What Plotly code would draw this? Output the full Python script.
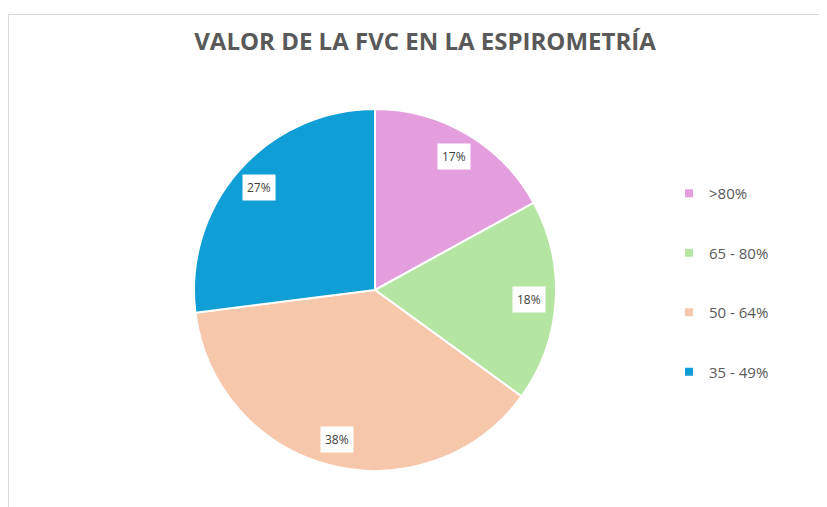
import math

import plotly.graph_objects as go

# page has an 8px body margin, so the figure is drawn 8px in from the corner
W, H = 819, 499
OFF = 8

categories = [">80%", "65 - 80%", "50 - 64%", "35 - 49%"]
values = [17, 18, 38, 27]
labels = ["17%", "18%", "38%", "27%"]
colors = ["#E49EDD", "#B4E5A2", "#F7C7AC", "#0F9ED5"]

# pie geometry in figure pixels
CX, CY, R = 375 - OFF, 290 - OFF, 181

fig = go.Figure()
fig.add_trace(
    go.Pie(
        labels=categories,
        values=values,
        sort=False,
        direction="clockwise",
        rotation=0,
        marker=dict(colors=colors, line=dict(color="#ffffff", width=2)),
        textinfo="none",
        hoverinfo="label+percent",
        showlegend=False,
        domain=dict(x=[(CX - R) / W, (CX + R) / W], y=[(H - CY - R) / H, (H - CY + R) / H]),
    )
)

# legend entries as dummy markers so they can be spaced out
for cat, col in zip(categories, colors):
    fig.add_trace(
        go.Scatter(
            x=[None],
            y=[None],
            mode="markers",
            name=cat,
            legendgroup=cat,
            marker=dict(symbol="square", size=8, color=col),
        )
    )

# data labels in white boxes near the outer edge of each slice
total = sum(values)
cum = 0
for v, txt in zip(values, labels):
    mid = (cum + v / 2) / total * 2 * math.pi
    cum += v
    px_ = CX + 0.855 * R * math.sin(mid)
    py_ = CY - 0.855 * R * math.cos(mid)
    fig.add_annotation(
        x=px_ / W,
        y=1 - py_ / H,
        xref="paper",
        yref="paper",
        xanchor="center",
        yanchor="middle",
        text=txt,
        showarrow=False,
        font=dict(family="Open Sans, Arial, sans-serif", size=12, color="#404040"),
        bgcolor="#ffffff",
        borderpad=4,
    )

# chart frame
fig.add_shape(
    type="rect",
    xref="paper",
    yref="paper",
    x0=0.5 / W,
    x1=1.02,
    y0=-0.02,
    y1=1 - 6.5 / H,
    line=dict(color="#D9D9D9", width=1),
)

fig.update_layout(
    width=W,
    height=H,
    margin=dict(l=0, r=0, t=0, b=0),
    paper_bgcolor="#ffffff",
    plot_bgcolor="#ffffff",
    title=dict(
        text="<b>VALOR DE LA FVC EN LA ESPIROMETRÍA</b>",
        x=(425 - OFF) / W,
        xanchor="center",
        y=1 - (42 - OFF) / H,
        yanchor="middle",
        font=dict(family="Open Sans, Arial, sans-serif", size=24, color="#595959"),
    ),
    legend=dict(
        x=(669 - OFF) / W,
        xanchor="left",
        y=1 - (177 - OFF) / H,
        yanchor="top",
        tracegroupgap=37,
        font=dict(family="Open Sans, Arial, sans-serif", size=15, color="#595959"),
        bgcolor="rgba(0,0,0,0)",
    ),
    xaxis=dict(visible=False),
    yaxis=dict(visible=False),
)

fig.write_html("out.html")
